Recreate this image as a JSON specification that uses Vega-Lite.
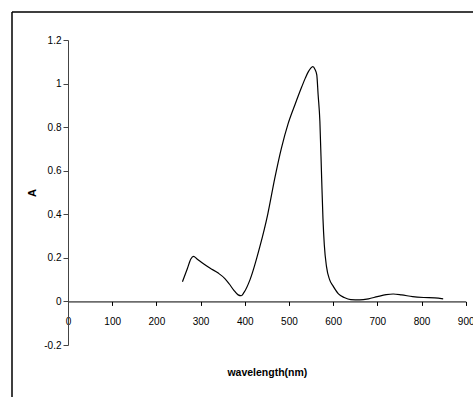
{
  "$schema": "https://vega.github.io/schema/vega-lite/v6.json",
  "width": 461,
  "height": 385,
  "autosize": "none",
  "padding": {"left": 12, "top": 12, "right": 0, "bottom": 0},
  "background": "white",
  "config": {
    "view": {"stroke": "black", "strokeWidth": 1.5, "strokeDash": [461, 846, 385, 0]},
    "font": "Liberation Sans"
  },
  "data": {
    "values": [
      {"wavelength": 259, "A": 0.09},
      {"wavelength": 270, "A": 0.15},
      {"wavelength": 278, "A": 0.195},
      {"wavelength": 284, "A": 0.207},
      {"wavelength": 292, "A": 0.195},
      {"wavelength": 305, "A": 0.175},
      {"wavelength": 321, "A": 0.153},
      {"wavelength": 340, "A": 0.13},
      {"wavelength": 355, "A": 0.105},
      {"wavelength": 365, "A": 0.08},
      {"wavelength": 375, "A": 0.052},
      {"wavelength": 385, "A": 0.03},
      {"wavelength": 392, "A": 0.026},
      {"wavelength": 398, "A": 0.04},
      {"wavelength": 412, "A": 0.1},
      {"wavelength": 434, "A": 0.25},
      {"wavelength": 452, "A": 0.4},
      {"wavelength": 468, "A": 0.566},
      {"wavelength": 483, "A": 0.704},
      {"wavelength": 498, "A": 0.815},
      {"wavelength": 514, "A": 0.905},
      {"wavelength": 529, "A": 0.985},
      {"wavelength": 537, "A": 1.025},
      {"wavelength": 544, "A": 1.055},
      {"wavelength": 549, "A": 1.07},
      {"wavelength": 554, "A": 1.078},
      {"wavelength": 559, "A": 1.065},
      {"wavelength": 563, "A": 1.04},
      {"wavelength": 566, "A": 0.95},
      {"wavelength": 570, "A": 0.827},
      {"wavelength": 574, "A": 0.566},
      {"wavelength": 577, "A": 0.38},
      {"wavelength": 580, "A": 0.26},
      {"wavelength": 585, "A": 0.16},
      {"wavelength": 592, "A": 0.1},
      {"wavelength": 600, "A": 0.07},
      {"wavelength": 612, "A": 0.035},
      {"wavelength": 625, "A": 0.018},
      {"wavelength": 640, "A": 0.008},
      {"wavelength": 660, "A": 0.007},
      {"wavelength": 680, "A": 0.012},
      {"wavelength": 700, "A": 0.022},
      {"wavelength": 720, "A": 0.031},
      {"wavelength": 736, "A": 0.034},
      {"wavelength": 755, "A": 0.03},
      {"wavelength": 780, "A": 0.022},
      {"wavelength": 805, "A": 0.018},
      {"wavelength": 830, "A": 0.016},
      {"wavelength": 849, "A": 0.012}
    ]
  },
  "mark": {"type": "line", "interpolate": "monotone", "color": "black", "strokeWidth": 1.2},
  "encoding": {
    "x": {
      "field": "wavelength",
      "type": "quantitative",
      "scale": {"domain": [0, 900], "range": [56, 453.7], "nice": false, "zero": false},
      "axis": {
        "orient": "bottom",
        "offset": -95.57,
        "values": [0, 100, 200, 300, 400, 500, 600, 700, 800, 900],
        "grid": false,
        "tickSize": 4,
        "tickColor": "black",
        "domainColor": "black",
        "labelPadding": 11,
        "labelFontSize": 10,
        "labelColor": "black",
        "labelFlush": false,
        "labelOverlap": false,
        "title": "wavelength(nm)",
        "titleFontSize": 10.5,
        "titleFontWeight": "bold",
        "titleColor": "black",
        "titleBaseline": "middle",
        "titleY": 71
      }
    },
    "y": {
      "field": "A",
      "type": "quantitative",
      "scale": {"domain": [-0.2, 1.2], "range": [333, 28], "nice": false, "zero": false},
      "axis": {
        "orient": "left",
        "offset": -56,
        "values": [-0.2, 0, 0.2, 0.4, 0.6, 0.8, 1, 1.2],
        "labelExpr": "replace(datum.label, '\u2212', '-')",
        "format": "~g",
        "grid": false,
        "tickSize": 5,
        "tickColor": "#444",
        "domainColor": "#444",
        "labelPadding": 2,
        "labelFontSize": 10,
        "labelColor": "black",
        "labelFlush": false,
        "labelOverlap": false,
        "title": "A",
        "titleFontSize": 11,
        "titleFontWeight": "bold",
        "titleColor": "black",
        "titleAngle": -90,
        "titleBaseline": "middle",
        "titleAlign": "center",
        "titleX": -36,
        "titleY": 180.5
      }
    }
  }
}
